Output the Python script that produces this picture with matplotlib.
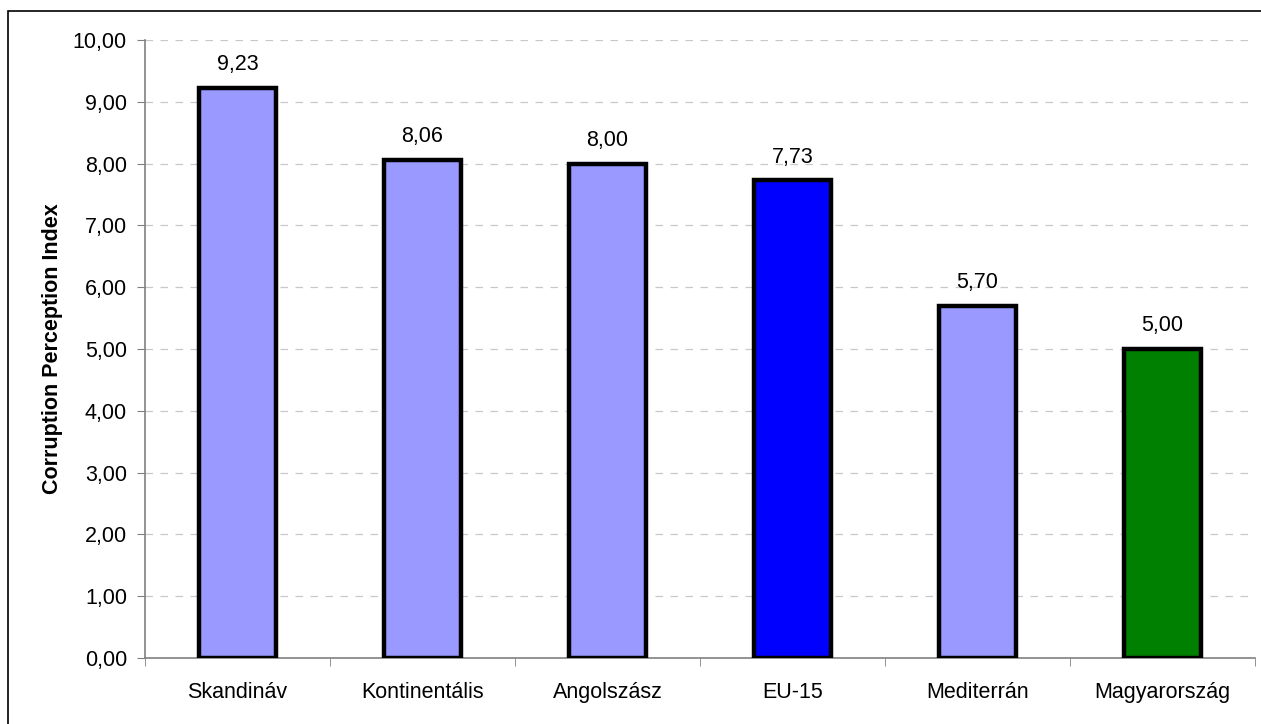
import matplotlib.pyplot as plt
from matplotlib.patches import Rectangle
import numpy as np

plt.rcParams['font.family'] = ['Liberation Sans', 'DejaVu Sans']

# Adatok
kategoriak = ['Skandináv', 'Kontinentális', 'Angolszász', 'EU-15', 'Mediterrán', 'Magyarország']
ertekek = [9.23, 8.06, 8.00, 7.73, 5.70, 5.00]
szinek = ['#9999FF', '#9999FF', '#9999FF', '#0000FF', '#9999FF', '#008000']
y_ticks = np.arange(0, 11, 1)

fig = plt.figure(figsize=(12.61, 7.24), dpi=100)
ax = fig.add_axes([145/1261, 66/724, 1110/1261, 618/724])

# Külső keret
fig.patches.append(Rectangle((8/1261, -0.1), 1.2, 1 - 11/724 + 0.1, transform=fig.transFigure,
                             fill=False, edgecolor='black', linewidth=1.2))

x = np.arange(len(kategoriak))
ax.bar(x, ertekek, width=0.42, color=szinek, edgecolor='black', linewidth=3.2, zorder=3)

for xi, v in zip(x, ertekek):
    ax.annotate(f'{v:.2f}'.replace('.', ','), (xi, v), xytext=(0, 9), textcoords='offset points',
                ha='center', va='bottom', fontsize=15.5)

ax.set_xlim(-0.5, len(kategoriak) - 0.5)
ax.set_ylim(0, 10)
ax.set_yticks(y_ticks)
ax.set_yticklabels([f'{t:.2f}'.replace('.', ',') for t in y_ticks], fontsize=15.5)
ax.set_xticks(x)
ax.set_xticklabels(kategoriak, fontsize=15.5)
ax.set_xticks(np.arange(-0.5, len(kategoriak)), minor=True)
ax.tick_params(axis='x', which='major', length=0, pad=17)
ax.tick_params(axis='x', which='minor', length=6, color='#808080', direction='out')
ax.tick_params(axis='y', length=6, color='#808080', direction='out', pad=7)

ax.grid(axis='y', color='#C8C8C8', linestyle=(0, (6, 6)), linewidth=0.9, zorder=0)
ax.set_axisbelow(True)

for s in ['top', 'right']:
    ax.spines[s].set_visible(False)
for s in ['left', 'bottom']:
    ax.spines[s].set_color('#808080')
    ax.spines[s].set_linewidth(1.2)

ax.set_ylabel('Corruption Perception Index', fontsize=15.5, fontweight='bold', labelpad=7)

fig.savefig('out.png', dpi=100)
